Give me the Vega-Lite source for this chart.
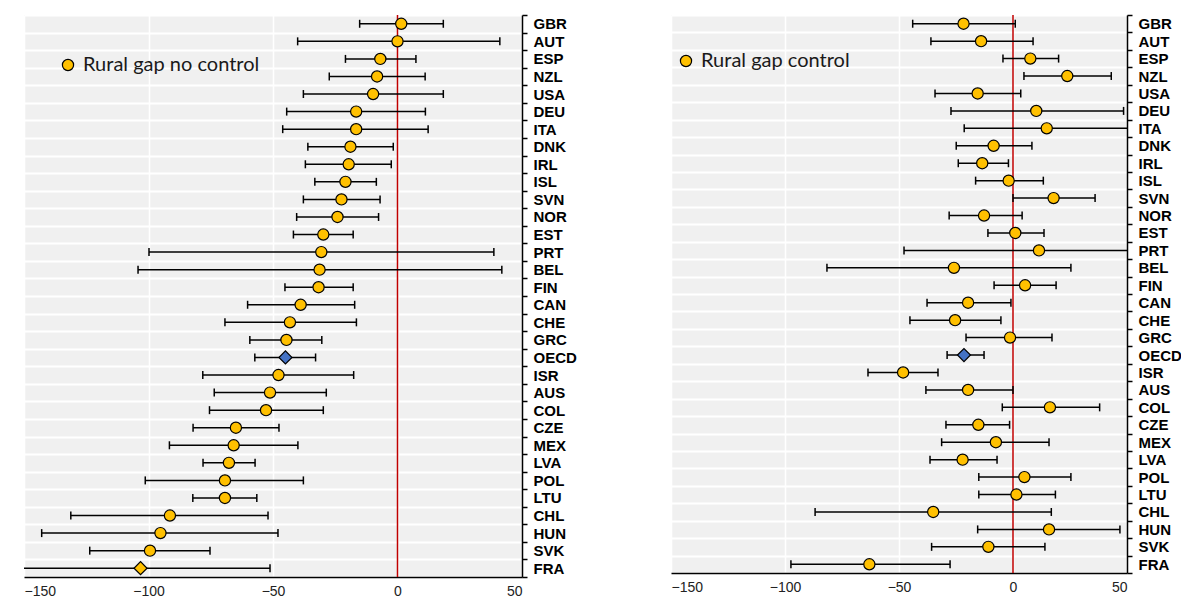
{
  "$schema": "https://vega.github.io/schema/vega-lite/v6.json",
  "background": "white",
  "padding": {"left": 24, "top": 8, "right": 5, "bottom": 0},
  "config": {
    "view": {"fill": "#f0f0f0", "stroke": null},
    "concat": {"spacing": 94},
    "legend": {"orient": "none", "padding": 0, "symbolType": "circle", "symbolSize": 125, "symbolStrokeColor": "black", "symbolStrokeWidth": 1.2, "labelFont": "Lato", "labelFontSize": 20, "labelColor": "#1a1a1a", "labelOffset": 5, "labelLimit": 400, "title": null}
  },
  "datasets": {
    "noControl": [
      {"c": "GBR", "v": 1.5, "lo": -15.2, "hi": 18.4, "m": "circle"},
      {"c": "AUT", "v": 0.0, "lo": -40.1, "hi": 41.1, "m": "circle"},
      {"c": "ESP", "v": -6.9, "lo": -20.9, "hi": 7.4, "m": "circle"},
      {"c": "NZL", "v": -8.2, "lo": -27.4, "hi": 11.1, "m": "circle"},
      {"c": "USA", "v": -9.8, "lo": -37.8, "hi": 18.4, "m": "circle"},
      {"c": "DEU", "v": -16.6, "lo": -44.5, "hi": 11.2, "m": "circle"},
      {"c": "ITA", "v": -16.6, "lo": -46.1, "hi": 12.3, "m": "circle"},
      {"c": "DNK", "v": -18.9, "lo": -36.0, "hi": -1.7, "m": "circle"},
      {"c": "IRL", "v": -19.6, "lo": -37.0, "hi": -2.5, "m": "circle"},
      {"c": "ISL", "v": -20.9, "lo": -33.2, "hi": -8.5, "m": "circle"},
      {"c": "SVN", "v": -22.5, "lo": -37.8, "hi": -7.0, "m": "circle"},
      {"c": "NOR", "v": -24.1, "lo": -40.5, "hi": -7.6, "m": "circle"},
      {"c": "EST", "v": -29.8, "lo": -41.8, "hi": -17.8, "m": "circle"},
      {"c": "PRT", "v": -30.6, "lo": -99.8, "hi": 38.7, "m": "circle"},
      {"c": "BEL", "v": -31.3, "lo": -104.2, "hi": 41.9, "m": "circle"},
      {"c": "FIN", "v": -31.7, "lo": -45.2, "hi": -17.8, "m": "circle"},
      {"c": "CAN", "v": -38.9, "lo": -60.2, "hi": -17.2, "m": "circle"},
      {"c": "CHE", "v": -43.2, "lo": -69.3, "hi": -16.5, "m": "circle"},
      {"c": "GRC", "v": -44.6, "lo": -59.3, "hi": -30.4, "m": "circle"},
      {"c": "OECD", "v": -45.0, "lo": -57.3, "hi": -32.9, "m": "diamond"},
      {"c": "ISR", "v": -47.8, "lo": -78.2, "hi": -17.6, "m": "circle"},
      {"c": "AUS", "v": -51.2, "lo": -73.6, "hi": -28.6, "m": "circle"},
      {"c": "COL", "v": -52.8, "lo": -75.5, "hi": -29.8, "m": "circle"},
      {"c": "CZE", "v": -64.9, "lo": -82.1, "hi": -47.6, "m": "circle"},
      {"c": "MEX", "v": -65.8, "lo": -91.6, "hi": -40.0, "m": "circle"},
      {"c": "LVA", "v": -67.7, "lo": -78.1, "hi": -57.2, "m": "circle"},
      {"c": "POL", "v": -69.3, "lo": -101.3, "hi": -37.8, "m": "circle"},
      {"c": "LTU", "v": -69.3, "lo": -82.2, "hi": -56.5, "m": "circle"},
      {"c": "CHL", "v": -91.4, "lo": -131.2, "hi": -52.0, "m": "circle"},
      {"c": "HUN", "v": -95.2, "lo": -142.9, "hi": -48.0, "m": "circle"},
      {"c": "SVK", "v": -99.4, "lo": -123.6, "hi": -75.3, "m": "circle"},
      {"c": "FRA", "v": -103.2, "lo": -155.0, "hi": -51.2, "m": "diamond"}
    ],
    "withControl": [
      {"c": "GBR", "v": -21.7, "lo": -44.0, "hi": 1.0, "m": "circle"},
      {"c": "AUT", "v": -14.0, "lo": -36.0, "hi": 8.8, "m": "circle"},
      {"c": "ESP", "v": 7.6, "lo": -4.4, "hi": 20.0, "m": "circle"},
      {"c": "NZL", "v": 23.8, "lo": 4.8, "hi": 43.1, "m": "circle"},
      {"c": "USA", "v": -15.5, "lo": -34.2, "hi": 3.4, "m": "circle"},
      {"c": "DEU", "v": 10.2, "lo": -27.2, "hi": 48.5, "m": "circle"},
      {"c": "ITA", "v": 14.8, "lo": -21.4, "hi": 52.0, "m": "circle"},
      {"c": "DNK", "v": -8.5, "lo": -24.9, "hi": 8.3, "m": "circle"},
      {"c": "IRL", "v": -13.5, "lo": -24.0, "hi": -2.0, "m": "circle"},
      {"c": "ISL", "v": -1.9, "lo": -16.4, "hi": 13.3, "m": "circle"},
      {"c": "SVN", "v": 17.8, "lo": 0.0, "hi": 36.0, "m": "circle"},
      {"c": "NOR", "v": -12.7, "lo": -28.0, "hi": 4.0, "m": "circle"},
      {"c": "EST", "v": 1.0, "lo": -11.0, "hi": 13.6, "m": "circle"},
      {"c": "PRT", "v": 11.4, "lo": -47.8, "hi": 52.0, "m": "circle"},
      {"c": "BEL", "v": -25.9, "lo": -81.6, "hi": 25.4, "m": "circle"},
      {"c": "FIN", "v": 5.3, "lo": -8.3, "hi": 18.9, "m": "circle"},
      {"c": "CAN", "v": -19.7, "lo": -37.7, "hi": -0.9, "m": "circle"},
      {"c": "CHE", "v": -25.4, "lo": -45.2, "hi": -5.3, "m": "circle"},
      {"c": "GRC", "v": -1.3, "lo": -20.6, "hi": 17.1, "m": "circle"},
      {"c": "OECD", "v": -21.5, "lo": -28.9, "hi": -12.7, "m": "diamond"},
      {"c": "ISR", "v": -48.2, "lo": -63.6, "hi": -32.9, "m": "circle"},
      {"c": "AUS", "v": -19.7, "lo": -38.2, "hi": 0.0, "m": "circle"},
      {"c": "COL", "v": 16.2, "lo": -4.7, "hi": 38.0, "m": "circle"},
      {"c": "CZE", "v": -15.2, "lo": -29.4, "hi": -1.5, "m": "circle"},
      {"c": "MEX", "v": -7.5, "lo": -31.3, "hi": 15.8, "m": "circle"},
      {"c": "LVA", "v": -22.1, "lo": -36.4, "hi": -7.0, "m": "circle"},
      {"c": "POL", "v": 5.0, "lo": -15.0, "hi": 25.4, "m": "circle"},
      {"c": "LTU", "v": 1.5, "lo": -15.0, "hi": 18.6, "m": "circle"},
      {"c": "CHL", "v": -35.0, "lo": -86.8, "hi": 16.8, "m": "circle"},
      {"c": "HUN", "v": 15.8, "lo": -15.5, "hi": 46.9, "m": "circle"},
      {"c": "SVK", "v": -10.8, "lo": -35.7, "hi": 14.0, "m": "circle"},
      {"c": "FRA", "v": -63.0, "lo": -97.4, "hi": -27.6, "m": "circle"}
    ]
  },
  "hconcat": [
    {
      "width": 498,
      "height": 562,
      "layer": [
        {
          "data": {"values": [{"ref": 0}]},
          "mark": {"type": "rule", "color": "#C00000", "strokeWidth": 1.5},
          "encoding": {
            "x": {"field": "ref", "type": "quantitative",
              "scale": {"domain": [-150, 50], "nice": false, "zero": false},
              "axis": {"values": [-150, -100, -50, 0, 50], "title": null, "grid": true, "gridColor": "white", "gridWidth": 1.5, "domainColor": "black", "domainWidth": 1.5, "ticks": false, "labelFont": "Liberation Sans", "labelFontSize": 14, "labelColor": "#222222", "labelPadding": 7}}
          }
        },
        {
          "data": {"name": "noControl"},
          "mark": {"type": "rule", "color": "black", "strokeWidth": 1.5, "clip": true},
          "encoding": {
            "x": {"field": "lo", "type": "quantitative"},
            "x2": {"field": "hi"},
            "y": {"field": "c", "type": "nominal", "sort": null,
              "scale": {"paddingInner": 0, "paddingOuter": 0},
              "axis": {"orient": "right", "title": null, "tickBand": "extent", "grid": true, "gridColor": "white", "gridWidth": 2, "domainColor": "black", "domainWidth": 1.5, "tickColor": "black", "tickWidth": 1.5, "tickSize": 5, "labelFont": "Liberation Sans", "labelFontWeight": "bold", "labelFontSize": 15, "labelColor": "black", "labelPadding": 6}}
          }
        },
        {
          "data": {"name": "noControl"},
          "mark": {"type": "tick", "color": "black", "orient": "vertical", "size": 8, "thickness": 1.5, "opacity": 1, "clip": true},
          "encoding": {
            "x": {"field": "lo", "type": "quantitative"},
            "y": {"field": "c", "type": "nominal", "sort": null}
          }
        },
        {
          "data": {"name": "noControl"},
          "mark": {"type": "tick", "color": "black", "orient": "vertical", "size": 8, "thickness": 1.5, "opacity": 1, "clip": true},
          "encoding": {
            "x": {"field": "hi", "type": "quantitative"},
            "y": {"field": "c", "type": "nominal", "sort": null}
          }
        },
        {
          "data": {"name": "noControl"},
          "transform": [{"calculate": "'Rural gap no control'", "as": "series"}],
          "mark": {"type": "point", "filled": true, "stroke": "black", "strokeWidth": 1.2, "opacity": 1},
          "encoding": {
            "x": {"field": "v", "type": "quantitative"},
            "y": {"field": "c", "type": "nominal", "sort": null},
            "shape": {"field": "m", "type": "nominal", "scale": {"domain": ["circle", "diamond"], "range": ["circle", "diamond"]}, "legend": null},
            "size": {"condition": {"test": "datum.m === 'diamond'", "value": 170}, "value": 125},
            "fill": {"condition": {"test": "datum.c === 'OECD'", "value": "#4472C4"},
              "field": "series", "type": "nominal", "scale": {"range": ["#FFC000"]},
              "legend": {"legendX": 34, "legendY": 40}}
          }
        }
      ]
    },
    {
      "width": 456,
      "height": 558,
      "layer": [
        {
          "data": {"values": [{"ref": 0}]},
          "mark": {"type": "rule", "color": "#C00000", "strokeWidth": 1.5},
          "encoding": {
            "x": {"field": "ref", "type": "quantitative",
              "scale": {"domain": [-150, 50], "nice": false, "zero": false},
              "axis": {"values": [-150, -100, -50, 0, 50], "title": null, "grid": true, "gridColor": "white", "gridWidth": 1.5, "domainColor": "black", "domainWidth": 1.5, "ticks": false, "labelFont": "Liberation Sans", "labelFontSize": 14, "labelColor": "#222222", "labelPadding": 7}}
          }
        },
        {
          "data": {"name": "withControl"},
          "mark": {"type": "rule", "color": "black", "strokeWidth": 1.5, "clip": true},
          "encoding": {
            "x": {"field": "lo", "type": "quantitative"},
            "x2": {"field": "hi"},
            "y": {"field": "c", "type": "nominal", "sort": null,
              "scale": {"paddingInner": 0, "paddingOuter": 0},
              "axis": {"orient": "right", "title": null, "tickBand": "extent", "grid": true, "gridColor": "white", "gridWidth": 2, "domainColor": "black", "domainWidth": 1.5, "tickColor": "black", "tickWidth": 1.5, "tickSize": 5, "labelFont": "Liberation Sans", "labelFontWeight": "bold", "labelFontSize": 15, "labelColor": "black", "labelPadding": 6}}
          }
        },
        {
          "data": {"name": "withControl"},
          "mark": {"type": "tick", "color": "black", "orient": "vertical", "size": 8, "thickness": 1.5, "opacity": 1, "clip": true},
          "encoding": {
            "x": {"field": "lo", "type": "quantitative"},
            "y": {"field": "c", "type": "nominal", "sort": null}
          }
        },
        {
          "data": {"name": "withControl"},
          "mark": {"type": "tick", "color": "black", "orient": "vertical", "size": 8, "thickness": 1.5, "opacity": 1, "clip": true},
          "encoding": {
            "x": {"field": "hi", "type": "quantitative"},
            "y": {"field": "c", "type": "nominal", "sort": null}
          }
        },
        {
          "data": {"name": "withControl"},
          "transform": [{"calculate": "'Rural gap control'", "as": "series"}],
          "mark": {"type": "point", "filled": true, "stroke": "black", "strokeWidth": 1.2, "opacity": 1},
          "encoding": {
            "x": {"field": "v", "type": "quantitative"},
            "y": {"field": "c", "type": "nominal", "sort": null},
            "shape": {"field": "m", "type": "nominal", "scale": {"domain": ["circle", "diamond"], "range": ["circle", "diamond"]}, "legend": null},
            "size": {"condition": {"test": "datum.m === 'diamond'", "value": 170}, "value": 125},
            "fill": {"condition": {"test": "datum.c === 'OECD'", "value": "#4472C4"},
              "field": "series", "type": "nominal", "scale": {"range": ["#FFC000"]},
              "legend": {"legendX": 5, "legendY": 36}}
          }
        }
      ]
    }
  ],
  "resolve": {"scale": {"fill": "independent", "shape": "independent", "x": "independent", "y": "independent"}, "legend": {"fill": "independent", "shape": "independent"}}
}
